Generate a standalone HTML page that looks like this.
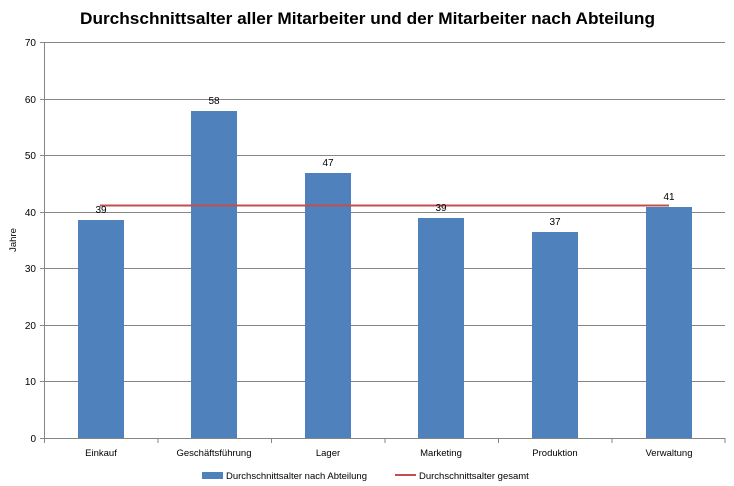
<!DOCTYPE html>
<html><head><meta charset="utf-8"><style>
body{margin:0;background:#fff;}
svg{display:block;font-family:"Liberation Sans","DejaVu Sans",sans-serif;}
</style></head><body>
<svg width="734" height="486" viewBox="0 0 734 486" xmlns="http://www.w3.org/2000/svg">
<rect width="734" height="486" fill="#fff"/>
<text x="80" y="24" textLength="575" lengthAdjust="spacingAndGlyphs" font-size="17" font-weight="bold" fill="#000">Durchschnittsalter  aller Mitarbeiter und der Mitarbeiter nach Abteilung</text>
<g stroke="#868686" stroke-width="1">
<line x1="40" y1="42.5" x2="725" y2="42.5"/>
<line x1="40" y1="99.5" x2="725" y2="99.5"/>
<line x1="40" y1="155.5" x2="725" y2="155.5"/>
<line x1="40" y1="212.5" x2="725" y2="212.5"/>
<line x1="40" y1="268.5" x2="725" y2="268.5"/>
<line x1="40" y1="325.5" x2="725" y2="325.5"/>
<line x1="40" y1="381.5" x2="725" y2="381.5"/>
<line x1="40" y1="438.5" x2="725" y2="438.5"/>
<line x1="44.5" y1="42" x2="44.5" y2="438"/>
<line x1="44.5" y1="438" x2="44.5" y2="443"/>
<line x1="158" y1="438" x2="158" y2="443"/>
<line x1="271.5" y1="438" x2="271.5" y2="443"/>
<line x1="385" y1="438" x2="385" y2="443"/>
<line x1="498.5" y1="438" x2="498.5" y2="443"/>
<line x1="612" y1="438" x2="612" y2="443"/>
<line x1="725" y1="438" x2="725" y2="443"/>
</g>
<g font-size="10" fill="#000" text-anchor="end">
<text x="36" y="46">70</text><text x="36" y="103">60</text><text x="36" y="159">50</text>
<text x="36" y="216">40</text><text x="36" y="272">30</text><text x="36" y="329">20</text>
<text x="36" y="385">10</text><text x="36" y="442">0</text>
</g>
<text transform="translate(16,240) rotate(-90)" text-anchor="middle" font-size="9.5" fill="#000">Jahre</text>
<g fill="#4F81BD">
<rect x="78" y="220" width="46" height="218"/>
<rect x="191" y="111" width="46" height="327"/>
<rect x="305" y="173" width="46" height="265"/>
<rect x="418" y="218" width="46" height="220"/>
<rect x="532" y="232" width="46" height="206"/>
<rect x="646" y="207" width="46" height="231"/>
</g>
<line x1="100" y1="205.5" x2="669" y2="205.5" stroke="#C0504D" stroke-width="2"/>
<g font-size="10" fill="#000" text-anchor="middle">
<text x="101" y="213">39</text><text x="214" y="104">58</text><text x="328" y="166">47</text>
<text x="441" y="211">39</text><text x="555" y="225">37</text><text x="669" y="200">41</text>
</g>
<g font-size="9.5" fill="#000" text-anchor="middle">
<text x="101" y="456">Einkauf</text><text x="214" y="456">Geschäftsführung</text><text x="328" y="456">Lager</text>
<text x="441" y="456">Marketing</text><text x="555" y="456">Produktion</text><text x="669" y="456">Verwaltung</text>
</g>
<rect x="202" y="472" width="21" height="7" fill="#4F81BD"/>
<text x="226" y="479" font-size="9.5" fill="#000">Durchschnittsalter nach Abteilung</text>
<line x1="395" y1="475" x2="416" y2="475" stroke="#C0504D" stroke-width="2"/>
<text x="419" y="479" font-size="9.5" fill="#000">Durchschnittsalter gesamt</text>
</svg>
</body></html>
